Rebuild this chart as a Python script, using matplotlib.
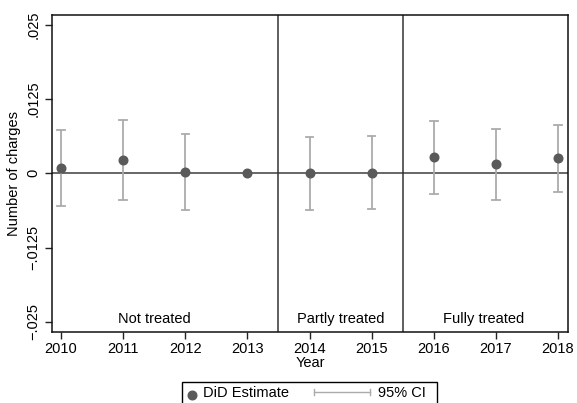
import matplotlib
matplotlib.use("Agg")
import matplotlib.pyplot as plt
from matplotlib.lines import Line2D
from matplotlib.patches import Rectangle

plt.rcParams['font.family'] = ['Liberation Sans', 'DejaVu Sans']

years = [2010, 2011, 2012, 2013, 2014, 2015, 2016, 2017, 2018]
estimate = [0.00094, 0.00223, 0.00027, 0.0, 0.0, 0.0001, 0.00268, 0.00151, 0.00252]
ci_low = [-0.00549, -0.00448, -0.00616, 0.0, -0.0062, -0.0060, -0.00342, -0.00448, -0.00314]
ci_high = [0.00732, 0.0090, 0.00665, 0.0, 0.00614, 0.0062, 0.00873, 0.00738, 0.00816]

yticks = [-0.025, -0.0125, 0, 0.0125, 0.025]
ytick_labels = ["\u2212.025", "\u2212.0125", "0", ".0125", ".025"]
period_labels = ["Not treated", "Partly treated", "Fully treated"]
period_x = [2011.5, 2014.5, 2016.8]
breaks = [2013.5, 2015.5]

W, H = 577, 403
fig = plt.figure(figsize=(W / 100, H / 100), dpi=100)
ax = fig.add_axes([0.0901, 0.1762, 0.8943, 0.7866])

ax.axhline(0, color='#5a5a5a', lw=1.3, zorder=1)
for b in breaks:
    ax.axvline(b, color='#333333', lw=1.1, zorder=1)

# CIs (reference year 2013 has none)
ci_years = [y for y, lo, hi in zip(years, ci_low, ci_high) if hi != lo]
ci_lo = [lo for lo, hi in zip(ci_low, ci_high) if hi != lo]
ci_hi = [hi for lo, hi in zip(ci_low, ci_high) if hi != lo]
ax.vlines(ci_years, ci_lo, ci_hi, color='#ababab', lw=1.3, zorder=2)
for y, lo, hi in zip(ci_years, ci_lo, ci_hi):
    ax.plot([y - 0.06, y + 0.06], [lo, lo], color='#ababab', lw=1.3, zorder=2)
    ax.plot([y - 0.06, y + 0.06], [hi, hi], color='#ababab', lw=1.3, zorder=2)

ax.plot(years, estimate, 'o', color='#5a5a5a', ms=6.2, zorder=3)

for txt, xp in zip(period_labels, period_x):
    ax.text(xp, -0.0245, txt, ha='center', va='center', fontsize=10.5)

ax.set_xlim(2009.855, 2018.16)
ax.set_ylim(-0.0267, 0.0266)
ax.set_xticks(years)
ax.set_xticklabels([str(y) for y in years], fontsize=10.5)
ax.set_yticks(yticks)
ax.set_yticklabels(ytick_labels, rotation=90, va='center', fontsize=10.5)
ax.tick_params(direction='out', length=5, width=1, color='#222222')
ax.tick_params(axis='x', pad=2)
for s in ax.spines.values():
    s.set_linewidth(1.1)
    s.set_color('#111111')

ax.set_xlabel("Year", fontsize=10.5, labelpad=0)
ax.set_ylabel("Number of charges", fontsize=10.5, labelpad=4)

# legend box drawn by hand (it runs off the bottom edge like the original)
def fx(px):
    return px / W

def fy(py):
    return 1 - py / H

tf = fig.transFigure
fig.patches.append(Rectangle((fx(182), fy(415)), fx(437) - fx(182), fy(382) - fy(415),
                             transform=tf, fill=False, ec='black', lw=1.0))
fig.add_artist(Line2D([fx(192)], [fy(395)], ls='none', marker='o', color='#5a5a5a',
                      ms=6.2, transform=tf))
fig.text(fx(203), fy(397), "DiD Estimate", fontsize=10.5, va='baseline', ha='left')
fig.add_artist(Line2D([fx(314), fx(370)], [fy(392), fy(392)], color='#ababab', lw=1.0,
                      transform=tf))
for xe in (314, 370):
    fig.add_artist(Line2D([fx(xe), fx(xe)], [fy(389), fy(395)], color='#ababab', lw=1.0,
                          transform=tf))
fig.text(fx(378), fy(397), "95% CI", fontsize=10.5, va='baseline', ha='left')

fig.savefig("out.png", dpi=100)
